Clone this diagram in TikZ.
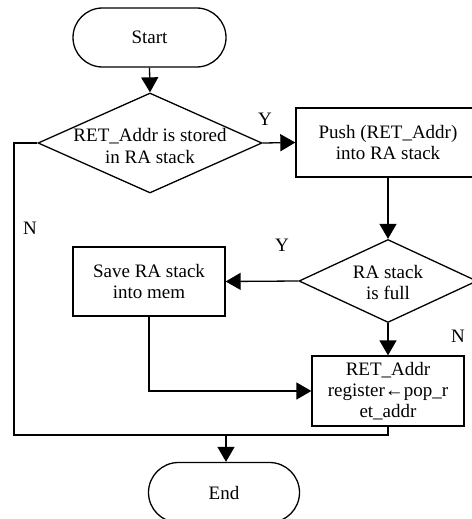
\documentclass[tikz,border=0pt]{standalone}
\usepackage{fontspec}
\setmainfont{Liberation Serif}
\usetikzlibrary{shapes.geometric,shapes.misc,arrows.meta}
\begin{document}
\begin{tikzpicture}[x=1pt,y=-1pt,
  every node/.style={font=\fontsize{19}{21}\selectfont, align=center, inner sep=0pt},
  flow/.style={line width=1.3pt},
  arr/.style={flow, -{Triangle[length=15pt,width=17pt]}},
  terminal/.style={draw, line width=1.3pt, rounded rectangle, minimum width=153pt, minimum height=59pt},
  decision/.style={draw, line width=1.3pt, diamond, inner sep=0pt},
  process/.style={draw, line width=1.3pt, rectangle},
  tag/.style={font=\fontsize{19}{21}\selectfont}]
\useasboundingbox (0,0) rectangle (471,519);

% blocks
\node[terminal] (start) at (149.5,37.5) {Start};
\node[decision, minimum width=224pt, minimum height=100pt] (d1) at (150,143) {};
\node (d1text) at (150,146) {RET\_Addr is stored\\in RA stack};
\node[process, minimum width=184pt, minimum height=69pt] (push) at (388,142.5)
  {Push (RET\_Addr)\\into RA stack};
\node[decision, minimum width=178pt, minimum height=83pt] (d2) at (388,281) {};
\node (d2text) at (388,282) {RA stack\\is full};
\node[process, minimum width=152pt, minimum height=69pt] (save) at (149,281.5)
  {Save RA stack\\into mem};
\node[process, minimum width=152pt, minimum height=70pt] (ret) at (388,391)
  {RET\_Addr\\register←pop\_r\\et\_addr};
\node[terminal, minimum width=151pt, minimum height=60pt] (end) at (224,492.5) {End};

% junction points of the return path
\coordinate (corner) at (14,435);
\coordinate (merge) at (226,435);

% connectors
\draw[arr] (start.south) -- (d1.north);
\draw[arr] (d1.east) -- (push.west);
\draw[arr] (push.south) -- (d2.north);
\draw[arr] (d2.west) -- (save.east);
\draw[arr] (d2.south) -- (ret.north);
\draw[arr] (save.south) |- (ret.west);
\draw[flow] (d1.west) -| (corner) -- (merge);
\draw[flow] (ret.south) |- (merge);
\draw[arr] (merge) -- (end.north -| merge);

% branch labels
\node[tag] (y1) at (265,119) {Y};
\node[tag] (n1) at (30,228) {N};
\node[tag] (y2) at (282,245) {Y};
\node[tag] (n2) at (458,336) {N};
\end{tikzpicture}
\end{document}
